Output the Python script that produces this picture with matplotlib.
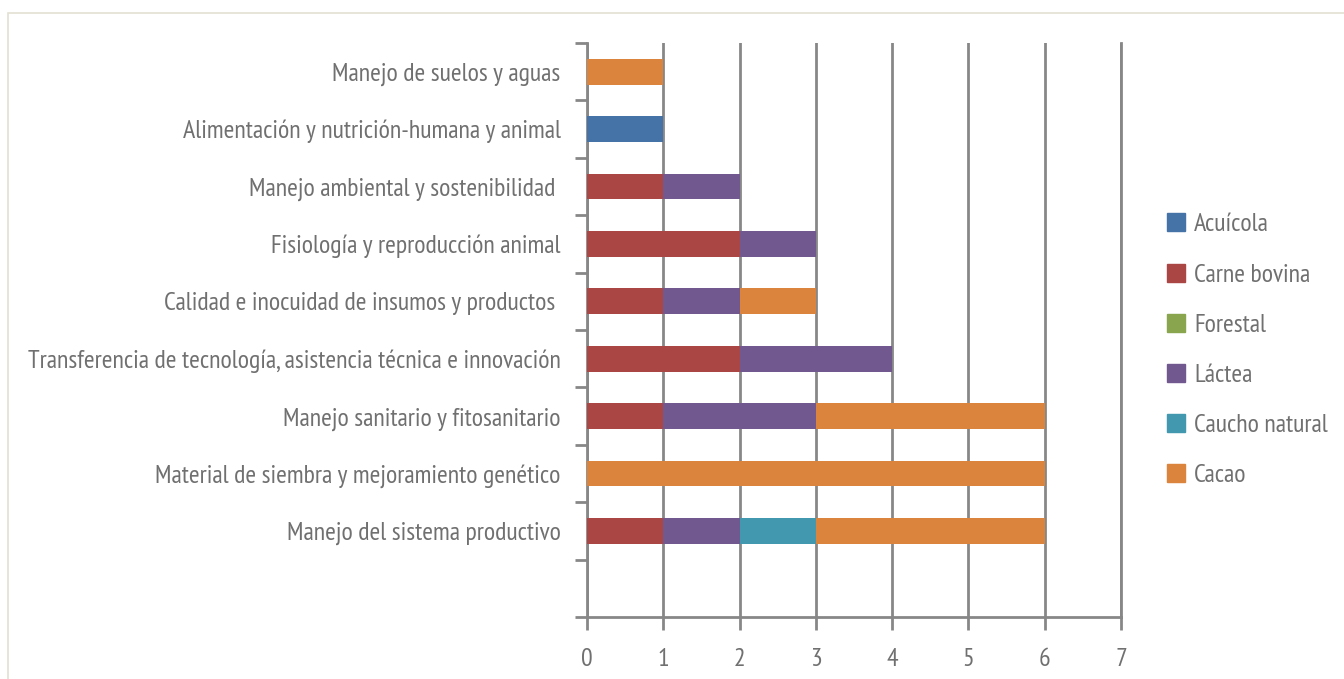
import matplotlib.pyplot as plt
import matplotlib.patches as mpatches
import numpy as np

plt.rcParams['font.family'] = ['PT Sans Narrow', 'DejaVu Sans']

# categories from bottom to top (first slot is empty in the original)
categories = ["", "Manejo del sistema productivo",
              "Material de siembra y mejoramiento genético",
              "Manejo sanitario y fitosanitario",
              "Transferencia de tecnología, asistencia técnica e innovación",
              "Calidad e inocuidad de insumos y productos ",
              "Fisiología y reproducción animal",
              "Manejo ambiental y sostenibilidad ",
              "Alimentación y nutrición-humana y animal",
              "Manejo de suelos y aguas"]

acuicola = [0, 0, 0, 0, 0, 0, 0, 0, 1, 0]
carne_bovina = [0, 1, 0, 1, 2, 1, 2, 1, 0, 0]
forestal = [0, 0, 0, 0, 0, 0, 0, 0, 0, 0]
lactea = [0, 1, 0, 2, 2, 1, 1, 1, 0, 0]
caucho = [0, 1, 0, 0, 0, 0, 0, 0, 0, 0]
cacao = [0, 3, 6, 3, 0, 1, 0, 0, 0, 1]

series = [("Acuícola", acuicola, "#4572A7"),
          ("Carne bovina", carne_bovina, "#AA4643"),
          ("Forestal", forestal, "#89A54E"),
          ("Láctea", lactea, "#71588F"),
          ("Caucho natural", caucho, "#4198AF"),
          ("Cacao", cacao, "#DB843D")]

text_color = "#707070"
line_color = "#878787"
fsize = 18.6

fig = plt.figure(figsize=(13.44, 6.79), dpi=100)
ax = fig.add_axes([0.4368, 0.0913, 0.3973, 0.8454])

y = np.arange(len(categories))
left = np.zeros(len(categories))
handles = []
for name, vals, color in series:
    vals = np.array(vals, dtype=float)
    ax.barh(y, vals, left=left, height=0.45, color=color, zorder=3)
    left += vals
    handles.append(mpatches.Patch(color=color, label=name))

ax.set_xlim(0, 7)
ax.set_ylim(-0.5, len(categories) - 0.5)
ax.set_xticks(range(8))
ax.set_yticks(y)
ax.set_yticklabels(categories)
ax.set_yticks(np.arange(-0.5, len(categories)), minor=True)

ax.grid(axis='x', color=line_color, linewidth=2, zorder=0)
ax.axvline(7, color=line_color, linewidth=2, zorder=0, clip_on=False)
for s in ['top', 'right']:
    ax.spines[s].set_visible(False)
for s in ['left', 'bottom']:
    ax.spines[s].set_color(line_color)
    ax.spines[s].set_linewidth(2)

ax.tick_params(axis='y', which='major', length=0, pad=19, labelsize=fsize, labelcolor=text_color)
ax.tick_params(axis='y', which='minor', length=9, width=2, color=line_color)
ax.tick_params(axis='x', length=9, width=2, color=line_color, labelsize=fsize,
               labelcolor=text_color, pad=13)

fig.legend(handles=handles, loc='center left', bbox_to_anchor=(0.851, 0.484),
           frameon=False, fontsize=fsize, labelcolor=text_color,
           handlelength=0.7, handleheight=0.7, handletextpad=0.35, labelspacing=1.05)

fig.patches.append(mpatches.Rectangle((8 / 1344, -0.1), 1.2, 1 - 13 / 679 + 0.1,
                                      transform=fig.transFigure, fill=False,
                                      edgecolor="#e3e0d3", linewidth=1.2))

fig.savefig("out.png", dpi=100)
